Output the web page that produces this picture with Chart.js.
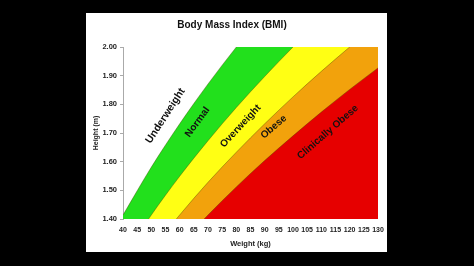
<!DOCTYPE html>
<html>
<head>
<meta charset="utf-8">
<script src="https://cdn.jsdelivr.net/npm/chart.js@4"></script>
<style>
  html, body { margin: 0; padding: 0; background: #000; width: 474px; height: 266px; overflow: hidden; }
  #panel { position: absolute; left: 86px; top: 13px; width: 301px; height: 239px; background: #fff; }
</style>
</head>
<body>
<div id="panel"><canvas id="bmi-chart" width="301" height="239"></canvas></div>
<script>
// weights (kg) where each boundary height was read
const weights = [40, 50, 60, 70, 80, 90, 100, 110, 120, 130];

// boundary heights (m) between the zones
const normalLine = [1.414, 1.581, 1.732, 1.871, 2.000, 2.121, 2.236, 2.345, 2.449, 2.550];
const overweightLine = [1.265, 1.414, 1.549, 1.673, 1.789, 1.897, 2.000, 2.098, 2.191, 2.280];
const obeseLine = [1.155, 1.291, 1.414, 1.528, 1.633, 1.732, 1.826, 1.915, 2.000, 2.082];
const clinicalLine = [1.069, 1.195, 1.309, 1.414, 1.512, 1.604, 1.690, 1.773, 1.852, 1.927];

const zoneNames = ['Underweight', 'Normal', 'Overweight', 'Obese', 'Clinically Obese'];

// where the zone names sit (weight, height) and their slant
const zoneLabelPos = [
    { x: 55.0, y: 1.760, angle: -57, size: 10.5 },
    { x: 66.3, y: 1.738, angle: -54, size: 10 },
    { x: 81.5, y: 1.724, angle: -47, size: 10 },
    { x: 93.2, y: 1.721, angle: -41, size: 10 },
    { x: 112.3, y: 1.703, angle: -41, size: 10 }
];

function toPoints(heights) {
    return weights.map((w, i) => ({ x: w, y: heights[i] }));
}

function zone(heights, color) {
    return {
        data: toPoints(heights),
        fill: 'start',
        backgroundColor: color,
        borderColor: 'rgba(70,60,0,0.55)',
        borderWidth: 0.7,
        pointRadius: 0,
        cubicInterpolationMode: 'monotone'
    };
}

// names drawn on top of the coloured zones
const zoneText = {
    id: 'zoneText',
    afterDatasetsDraw(chart) {
        const ctx = chart.ctx;
        const xs = chart.scales.x, ys = chart.scales.y;
        zoneNames.forEach((name, i) => {
            const p = zoneLabelPos[i];
            ctx.save();
            ctx.translate(xs.getPixelForValue(p.x), ys.getPixelForValue(p.y));
            ctx.rotate(p.angle * Math.PI / 180);
            ctx.font = 'bold ' + p.size + 'px "Liberation Sans", Arial, sans-serif';
            ctx.fillStyle = '#111';
            ctx.textAlign = 'center';
            ctx.textBaseline = 'middle';
            ctx.fillText(name, 0, 0);
            ctx.restore();
        });
    }
};

const font = { family: '"Liberation Sans", Arial, sans-serif', weight: 'bold' };

new Chart(document.getElementById('bmi-chart'), {
    type: 'line',
    data: {
        // first dataset is drawn last, so red ends up on top
        datasets: [
            zone(clinicalLine, '#e60000'),
            zone(obeseLine, '#f2a20c'),
            zone(overweightLine, '#ffff14'),
            zone(normalLine, '#22e01c')
        ]
    },
    options: {
        responsive: false,
        animation: false,
        layout: { padding: { left: 0, right: 9, top: 0, bottom: 0 } },
        plugins: {
            legend: { display: false },
            tooltip: { enabled: false },
            title: {
                display: true,
                text: 'Body Mass Index (BMI)',
                color: '#111',
                font: { ...font, size: 10 },
                padding: { top: 6, bottom: 16 }
            }
        },
        scales: {
            x: {
                type: 'linear',
                min: 40,
                max: 130,
                afterFit: (s) => { s.height = 33; s.paddingLeft = 0; s.paddingRight = 0; },
                ticks: { stepSize: 5, autoSkip: false, color: '#222', font: { ...font, size: 7 }, padding: 7, maxRotation: 0 },
                grid: { display: false, drawTicks: false },
                border: { display: false },
                title: { display: true, text: 'Weight (kg)', color: '#222', font: { ...font, size: 7.5 }, padding: { top: 3 } }
            },
            y: {
                min: 1.4,
                max: 2.0,
                afterFit: (s) => { s.width = 37; },
                ticks: { stepSize: 0.1, color: '#222', font: { ...font, size: 7.5 }, padding: 3,
                         callback: (v) => v.toFixed(2) },
                grid: { drawOnChartArea: false, drawTicks: true, tickLength: 3, color: '#aaa' },
                border: { display: true, color: '#aaa' },
                title: { display: true, text: 'Height (m)', color: '#222', font: { ...font, size: 7 }, padding: { top: 6, bottom: 0 } }
            }
        }
    },
    plugins: [zoneText]
});
</script>
</body>
</html>
